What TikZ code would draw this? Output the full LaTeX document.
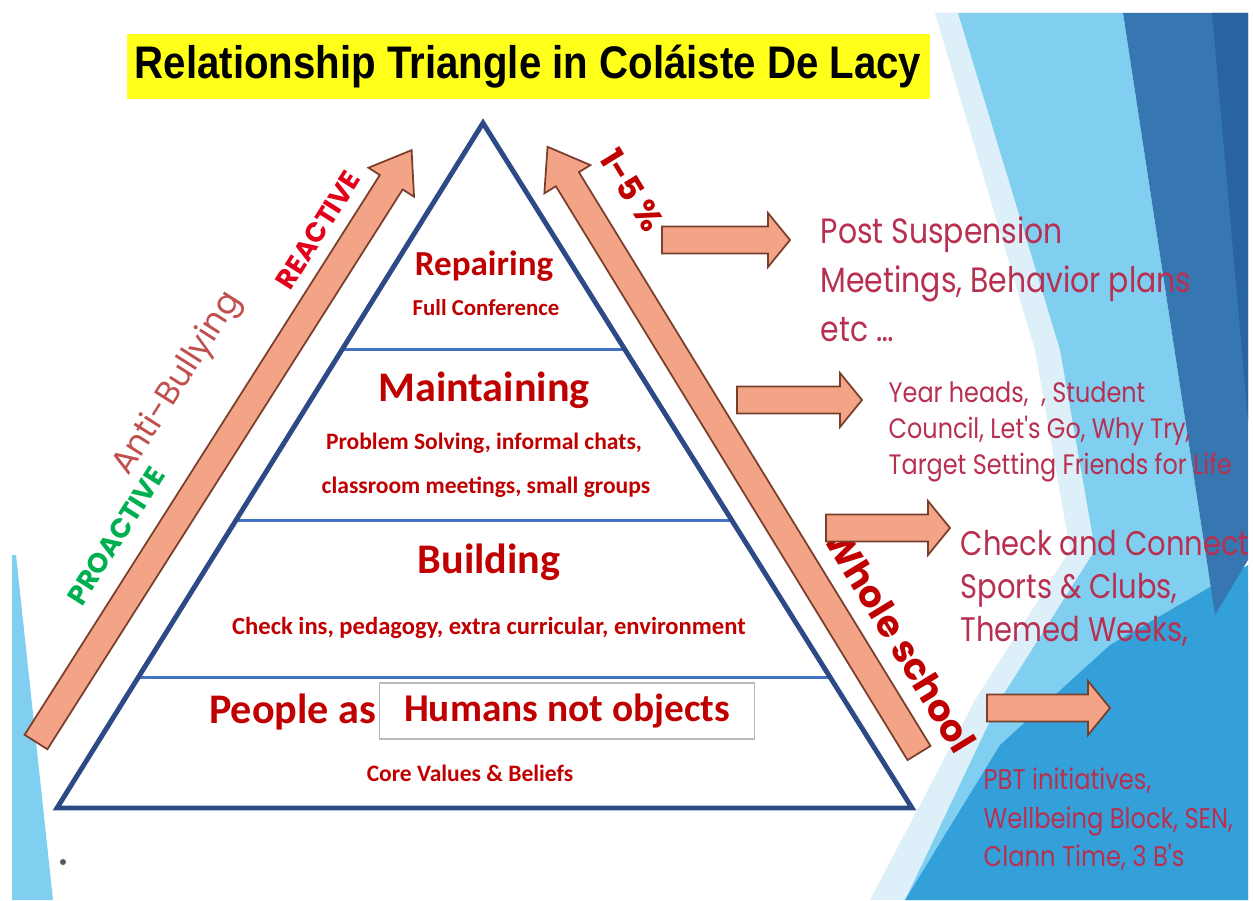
\documentclass[tikz,border=0pt]{standalone}
\usepackage{fontspec}
\setmainfont{Carlito}
\newfontfamily\gothic[FakeStretch=0.85]{Poppins}
\newfontfamily\gothicwide{Poppins}
\newfontfamily\headfont[FakeStretch=0.88]{Liberation Sans}
\usetikzlibrary{calc}
\definecolor{DLNavy}{HTML}{2E4A86}
\definecolor{DLLevel}{HTML}{4472C4}
\definecolor{DLRed}{HTML}{C00000}
\definecolor{DLBright}{HTML}{E3001B}
\definecolor{DLRose}{HTML}{B8304F}
\definecolor{DLMuted}{HTML}{C0504D}
\definecolor{DLGreen}{HTML}{00B050}
\definecolor{DLSalmon}{HTML}{F4A486}
\definecolor{DLEdge}{HTML}{7A3E2C}
\definecolor{DLYellow}{HTML}{FFFF1A}
\definecolor{DLPale}{HTML}{DDF0F9}
\definecolor{DLSky}{HTML}{80CFF0}
\definecolor{DLMid}{HTML}{34A0DA}
\definecolor{DLDeep}{HTML}{3677B1}
\definecolor{DLDeeper}{HTML}{2A64A0}

% block arrow: tail, angle, length, half shaft, half head, head length
\newcommand{\blockarrow}[6]{%
  \begin{scope}[shift={#1},rotate=#2]
    \draw[arrowbody] (0,-#4) -- ({#3-#6},-#4) -- ({#3-#6},-#5) -- (#3,0)
      -- ({#3-#6},#5) -- ({#3-#6},#4) -- (0,#4) -- cycle;
  \end{scope}}

\begin{document}
\begin{tikzpicture}[x=0.1mm,y=-0.1mm,
    level/.style={draw=DLLevel,line width=0.9pt},
    arrowbody/.style={fill=DLSalmon,draw=DLEdge,line width=0.5pt},
    tier/.style={inner sep=0pt,text=DLRed,font=\bfseries\fontsize{12}{14}\selectfont},
    tiernote/.style={inner sep=0pt,text=DLRed,font=\bfseries\fontsize{6.7}{8}\selectfont},
    sidetext/.style={inner sep=0pt,anchor=north west,align=left,text=DLRose},
    slant/.style={inner sep=0pt,font=\gothicwide\bfseries}
  ]
  \useasboundingbox (0,0) rectangle (1253,900);
  \fill[white] (0,0) rectangle (1253,900);

  % backdrop
  \fill[DLSky] (12,555) -- (16,555) -- (53,900) -- (12,900) -- cycle;
  \fill[DLPale] (935,13) -- (958,13) -- (1060,350) -- (1095,550) -- (1000,700)
    -- (905,900) -- (870,900) -- (975,700) -- (1070,550) -- (1035,350) -- cycle;
  \fill[DLSky] (958,13) -- (1123,13) -- (1215,615) -- (1248,590) -- (1248,900)
    -- (905,900) -- (1000,700) -- (1095,550) -- (1060,350) -- cycle;
  \fill[DLMid] (905,900) -- (1000,745) -- (1110,645) -- (1248,565) -- (1248,900) -- cycle;
  \fill[DLDeep] (1123,13) -- (1248,13) -- (1248,560) -- (1215,615) -- cycle;
  \fill[DLDeeper] (1212,13) -- (1248,13) -- (1248,420) -- cycle;

  % title
  \node[fill=DLYellow,inner sep=0pt,minimum width=80.3mm,minimum height=6.5mm,
    font=\headfont\bfseries\fontsize{13}{15}\selectfont] (title) at (528,67)
    {Relationship Triangle in Coláiste De Lacy};

  % triangle
  \coordinate (apex) at (483,123);
  \coordinate (bl) at (57,808);
  \coordinate (br) at (912,808);
  \draw[level] ($(apex)!0.331!(bl)$) -- ($(apex)!0.331!(br)$);
  \draw[level] ($(apex)!0.580!(bl)$) -- ($(apex)!0.580!(br)$);
  \draw[level] ($(apex)!0.809!(bl)$) -- ($(apex)!0.809!(br)$);
  \draw[DLNavy,line width=1.4pt] (apex) -- (bl) -- (br) -- cycle;

  \node[tier,font=\bfseries\fontsize{10}{12}\selectfont] (repair) at (484,266) {Repairing};
  \node[tiernote,font=\bfseries\fontsize{6.5}{8}\selectfont] (repairnote) at (486,308) {Full Conference};
  \node[tier] (maintain) at (484,390) {Maintaining};
  \node[tiernote] (maintainnote1) at (484,443) {Problem Solving, informal chats,};
  \node[tiernote] (maintainnote2) at (486,487) {classroom meetings, small groups};
  \node[tier] (build) at (489,562) {Building};
  \node[tiernote,font=\bfseries\fontsize{7}{8}\selectfont] (buildnote) at (489,628)
    {Check ins, pedagogy, extra curricular, environment};
  \node[tier,anchor=east] (people) at (377,712) {People as};
  \node[tier,draw=gray!55,line width=0.4pt,minimum width=37.5mm,minimum height=5.6mm,
    font=\bfseries\fontsize{11.2}{13}\selectfont] (humans) at (567,711) {Humans not objects};
  \node[tiernote] (core) at (470,773) {Core Values \& Beliefs};

  % diagonal arrows
  \blockarrow{(36,742)}{57.6}{701}{13.5}{27}{38}
  \blockarrow{(919,753)}{121.5}{711}{13.5}{27}{38}
  \node[slant,rotate=57.6,text=DLGreen,font=\gothicwide\bfseries\fontsize{7.8}{9}\selectfont]
    (proactive) at (116,536) {PROACTIVE};
  \node[slant,rotate=57.6,text=DLMuted,font=\gothicwide\fontsize{9.4}{11}\selectfont]
    (antibully) at (178,384) {Anti-Bullying};
  \node[slant,rotate=57.6,text=DLBright,font=\gothicwide\bfseries\fontsize{7.8}{9}\selectfont]
    (reactive) at (318,230) {REACTIVE};
  \node[slant,rotate=-58.5,text=DLRed,font=\gothicwide\bfseries\fontsize{9.5}{11}\selectfont]
    (percent) at (632,190) {1-5 \%};
  \node[slant,rotate=-58.5,text=DLRed,font=\gothicwide\bfseries\fontsize{10.5}{12}\selectfont]
    (whole) at (900,640) {Whole school};

  % side arrows and notes
  \blockarrow{(662,240)}{0}{128}{13.5}{27}{22}
  \blockarrow{(737,400)}{0}{125}{13.5}{27}{22}
  \blockarrow{(826,528)}{0}{124}{13.5}{27}{22}
  \blockarrow{(987,708)}{0}{123}{13.5}{27}{22}

  \node[sidetext,font=\gothic\fontsize{10}{14}\selectfont] (repairs) at (820,216)
    {Post Suspension\\Meetings, Behavior plans\\etc \dots};
  \node[sidetext,font=\gothic\fontsize{8}{10.2}\selectfont] (maintains) at (888,381)
    {Year heads,\ \ , Student\\Council, Let's Go, Why Try,\\Target Setting Friends for Life};
  \node[sidetext,font=\gothic\fontsize{9.7}{12.2}\selectfont] (builds) at (960,530)
    {Check and Connect\\Sports \& Clubs,\\Themed Weeks,};
  \node[sidetext,font=\gothic\fontsize{8.1}{11}\selectfont] (values) at (983,767)
    {PBT initiatives,\\Wellbeing Block, SEN,\\Clann Time, 3 B's};

  \fill[gray!70!black] (63,862) circle (0.3mm);
\end{tikzpicture}
\end{document}
